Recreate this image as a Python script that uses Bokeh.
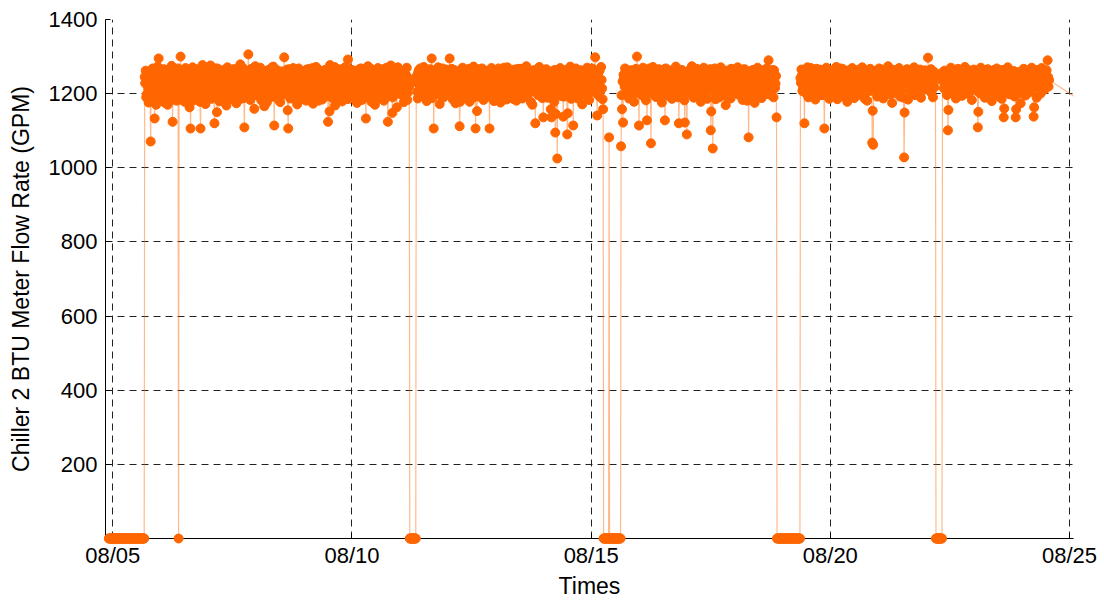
import pandas as pd
from bokeh.plotting import figure
from bokeh.models import FixedTicker, DatetimeTickFormatter, Range1d, ColumnDataSource
from bokeh.embed import file_html
from bokeh.resources import INLINE

# ---- data: Chiller 2 BTU meter flow rate (GPM) ----
# readings on the hour / half hour
series_start = "2020-08-04 22:00"
aug04 = [0, 0, 0, 0]
aug05 = [0] * 32 + [1245, 1262, 1198, 1231, 1176, 1254, 1071, 1219, 1268, 1187, 1133, 1240, 1206, 1273, 1295, 1228]
aug06 = [1214, 1251, 1183, 1266, 1232, 1197, 1243, 1170, 1259, 1221, 1189, 1275,
         1124, 1238, 1205, 1262, 1181, 1247, 0, 1226, 1300, 1193, 1257, 1213,
         1178, 1269, 1236, 1201, 1249, 1163, 1106, 1228, 1271, 1195, 1242, 1217,
         1256, 1184, 1231, 1264, 1106, 1209, 1277, 1191, 1246, 1172, 1238, 1260]
aug07 = [1203, 1248, 1276, 1186, 1229, 1255, 1120, 1241, 1197, 1268, 1215, 1179,
         1252, 1234, 1190, 1263, 1207, 1244, 1168, 1271, 1223, 1199, 1258, 1237,
         1185, 1266, 1212, 1249, 1174, 1230, 1261, 1196, 1279, 1220, 1242, 1188,
         1109, 1253, 1227, 1204, 1306, 1245, 1183, 1267, 1218, 1236, 1159, 1274]
aug08 = [1232, 1195, 1259, 1211, 1270, 1182, 1246, 1224, 1166, 1257, 1239, 1201,
         1264, 1188, 1229, 1251, 1207, 1273, 1114, 1235, 1192, 1260, 1218, 1243,
         1177, 1256, 1226, 1199, 1298, 1240, 1213, 1265, 1106, 1231, 1187, 1250,
         1222, 1269, 1194, 1238, 1255, 1171, 1244, 1209, 1262, 1228, 1185, 1247]
aug09 = [1258, 1216, 1181, 1249, 1233, 1267, 1198, 1225, 1254, 1173, 1241, 1210,
         1272, 1193, 1236, 1261, 1205, 1229, 1184, 1253, 1219, 1264, 1200, 1237,
         1124, 1246, 1277, 1213, 1189, 1258, 1230, 1168, 1243, 1222, 1266, 1196,
         1234, 1255, 1179, 1248, 1214, 1271, 1202, 1239, 1292, 1186, 1257, 1227]
aug10 = [1211, 1263, 1192, 1240, 1226, 1175, 1259, 1235, 1204, 1268, 1183, 1247,
         1220, 1256, 1133, 1231, 1274, 1199, 1243, 1215, 1188, 1262, 1237, 1170,
         1252, 1206, 1269, 1228, 1194, 1245, 1218, 1260, 1181, 1239, 1223, 1265,
         1124, 1250, 1208, 1276, 1232, 1190, 1257, 1219, 1244, 1163, 1271, 1236]
aug11 = [1229, 1198, 1261, 1242, 1177, 1254, 1216, 1270, 1203, 1238, 0, 0,
         0, 0, 0, 0, 0, 1248, 1187, 1263, 1221, 1196, 1257, 1234,
         1272, 1209, 1245, 1180, 1226, 1260, 1193, 1251, 1295, 1217, 1106, 1240,
         1264, 1199, 1233, 1256, 1172, 1245, 1212, 1268, 1190, 1237, 1259, 1224]
aug12 = [1246, 1205, 1295, 1231, 1267, 1185, 1252, 1219, 1174, 1261, 1240, 1197,
         1112, 1256, 1227, 1270, 1208, 1243, 1189, 1264, 1222, 1250, 1178, 1235,
         1259, 1201, 1273, 1216, 1106, 1248, 1230, 1192, 1266, 1211, 1244, 1257,
         1183, 1239, 1262, 1207, 1228, 1253, 1106, 1221, 1269, 1195, 1242, 1214]
aug13 = [1255, 1190, 1237, 1268, 1213, 1176, 1249, 1226, 1262, 1202, 1240, 1184,
         1271, 1218, 1233, 1258, 1195, 1247, 1209, 1265, 1223, 1181, 1254, 1236,
         1200, 1267, 1228, 1187, 1251, 1242, 1214, 1274, 1193, 1230, 1259, 1206,
         1245, 1170, 1263, 1222, 1120, 1238, 1256, 1197, 1272, 1215, 1249, 1188]
aug14 = [1136, 1243, 1207, 1266, 1225, 1189, 1252, 1231, 1136, 1260, 1214, 1178,
         1095, 1238, 1025, 1255, 1201, 1269, 1220, 1246, 1138, 1192, 1263, 1234,
         1090, 1248, 1211, 1273, 1186, 1229, 1114, 1257, 1240, 1203, 1265, 1222,
         1194, 1250, 1236, 1171, 1261, 1217, 1244, 1208, 1270, 1227, 1183, 1254]
aug15 = [1232, 1268, 1205, 1247, 1298, 1219, 1141, 1256, 1193, 1238, 1272, 1214,
         1158, 0, 0, 0, 0, 0, 1082, 0, 0, 0, 0, 0,
         0, 0, 0, 0, 0, 0, 1058, 1158, 1122, 1245, 1268, 1201,
         1236, 1259, 1187, 1227, 1263, 1210, 1250, 1178, 1241, 1267, 1300, 1222]
aug16 = [1114, 1257, 1233, 1196, 1270, 1218, 1244, 1182, 1128, 1261, 1229, 1205,
         1066, 1249, 1272, 1213, 1237, 1191, 1258, 1224, 1266, 1200, 1241, 1176,
         1253, 1219, 1128, 1268, 1234, 1195, 1247, 1212, 1262, 1186, 1239, 1255,
         1208, 1273, 1226, 1190, 1120, 1251, 1230, 1264, 1203, 1245, 1122, 1217]
aug17 = [1090, 1236, 1262, 1201, 1248, 1274, 1215, 1189, 1256, 1230, 1267, 1198,
         1243, 1221, 1178, 1259, 1207, 1270, 1235, 1192, 1252, 1226, 1263, 1211,
         1101, 1246, 1052, 1233, 1268, 1185, 1257, 1219, 1240, 1204, 1271, 1228,
         1196, 1254, 1238, 1169, 1262, 1214, 1249, 1225, 1187, 1266, 1232, 1205]
aug18 = [1258, 1213, 1245, 1271, 1197, 1234, 1260, 1222, 1183, 1249, 1266, 1208,
         1237, 1255, 1082, 1229, 1193, 1262, 1216, 1244, 1175, 1253, 1231, 1270,
         1204, 1240, 1263, 1188, 1226, 1257, 1212, 1247, 1268, 1199, 1290, 1235,
         1251, 1218, 1264, 1190, 1242, 1227, 1136, 0, 0, 0, 0, 0]
aug19 = [0, 0, 0, 0, 0, 0, 0, 0, 0, 0, 0, 0,
         0, 0, 0, 0, 0, 0, 1242, 1265, 1207, 1233, 1120, 1258,
         1219, 1271, 1190, 1246, 1228, 1261, 1201, 1239, 1255, 1184, 1267, 1224,
         1243, 1209, 1260, 1231, 1196, 1252, 1106, 1237, 1270, 1215, 1248, 1186]
aug20 = [1254, 1227, 1263, 1199, 1241, 1218, 1272, 1185, 1236, 1259, 1210, 1247,
         1223, 1266, 1193, 1250, 1231, 1178, 1262, 1214, 1244, 1205, 1269, 1229,
         1188, 1256, 1238, 1212, 1264, 1197, 1248, 1225, 1271, 1203, 1240, 1259,
         1216, 1181, 1253, 1234, 1267, 1208, 1068, 1062, 1245, 1226, 1261, 1192]
aug21 = [1239, 1268, 1206, 1251, 1223, 1187, 1262, 1230, 1245, 1198, 1274, 1216,
         1256, 1235, 1175, 1264, 1219, 1242, 1201, 1258, 1227, 1269, 1192, 1248,
         1213, 1237, 1028, 1255, 1220, 1266, 1184, 1241, 1229, 1260, 1203, 1250,
         1271, 1196, 1233, 1257, 1211, 1244, 1265, 1189, 1236, 1252, 1217, 1263]
aug22 = [1228, 1254, 1297, 1209, 1243, 1266, 1221, 1190, 1259, 1235, 0, 0,
         0, 0, 0, 0, 0, 1248, 1214, 1262, 1231, 1196, 1101, 1257,
         1238, 1270, 1205, 1246, 1223, 1261, 1187, 1240, 1267, 1212, 1253, 1229,
         1194, 1258, 1236, 1272, 1218, 1245, 1200, 1263, 1226, 1251, 1183, 1241]
aug23 = [1265, 1219, 1247, 1232, 1109, 1256, 1201, 1270, 1238, 1214, 1260, 1189,
         1244, 1227, 1266, 1205, 1253, 1235, 1180, 1262, 1221, 1249, 1196, 1268,
         1230, 1211, 1257, 1243, 1186, 1264, 1136, 1225, 1250, 1207, 1271, 1239,
         1198, 1255, 1216, 1247, 1261, 1192, 1136, 1233, 1258, 1220, 1244, 1174]
aug24 = [1252, 1213, 1267, 1236, 1195, 1248, 1226, 1261, 1204, 1242, 1270, 1218,
         1138, 1257, 1231, 1189, 1264, 1222, 1246, 1200, 1269, 1235, 1255, 1211,
         1240, 1263, 1290, 1219]

# readings at quarter past / quarter to
quarter_start = "2020-08-04 22:15"
q04 = [0, 0, 0, 0]
q05 = [0] * 32 + [1228, 1190, 1257, 1213, 1244, 1201, 1236, 1262, 1185, 1249, 1221, 1170, 1258, 1232, 1209, 1265]
q06 = [1197, 1240, 1226, 1258, 1175, 1219, 1264, 1203, 1237, 1251, 1182, 1229,
       1256, 1210, 1247, 1193, 1233, 1268, 1220, 1184, 1242, 1259, 1206, 1231,
       1253, 1189, 1224, 1262, 1214, 1238, 1199, 1257, 1181, 1245, 1225, 1266,
       1201, 1234, 1254, 1178, 1221, 1248, 1193, 1262, 1215, 1240, 1258, 1205]
q07 = [1237, 1221, 1191, 1256, 1244, 1208, 1268, 1226, 1150, 1233, 1252, 1198,
       1215, 1262, 1240, 1179, 1229, 1257, 1211, 1245, 1264, 1187, 1232, 1218,
       1254, 1203, 1238, 1266, 1194, 1247, 1223, 1258, 1186, 1235, 1269, 1210,
       1243, 1190, 1260, 1227, 1249, 1216, 1255, 1199, 1236, 1263, 1207, 1230]
q08 = [1245, 1267, 1213, 1230, 1189, 1255, 1239, 1201, 1261, 1222, 1176, 1248,
       1234, 1209, 1257, 1270, 1192, 1225, 1250, 1204, 1264, 1237, 1183, 1243,
       1218, 1260, 1197, 1233, 1252, 1210, 1241, 1155, 1228, 1266, 1206, 1239,
       1257, 1186, 1224, 1262, 1199, 1235, 1268, 1215, 1190, 1251, 1229, 1261]
q09 = [1202, 1240, 1265, 1227, 1188, 1253, 1216, 1244, 1269, 1195, 1230, 1258,
       1211, 1236, 1181, 1263, 1248, 1222, 1257, 1206, 1240, 1192, 1231, 1266,
       1217, 1152, 1237, 1259, 1200, 1245, 1272, 1213, 1189, 1254, 1234, 1208,
       1265, 1222, 1244, 1196, 1259, 1230, 1185, 1250, 1218, 1267, 1239, 1204]
q10 = [1248, 1229, 1205, 1261, 1186, 1242, 1220, 1266, 1197, 1233, 1255, 1214,
       1263, 1191, 1240, 1209, 1251, 1228, 1268, 1178, 1235, 1247, 1202, 1259,
       1224, 1238, 1187, 1256, 1213, 1266, 1199, 1232, 1249, 1208, 1270, 1226,
       1244, 1193, 1260, 1219, 1148, 1253, 1231, 1262, 1204, 1239, 1216, 1250]
q11 = [1262, 1214, 1238, 1196, 1256, 1225, 1249, 1183, 1242, 1219, 0, 0,
       0, 0, 0, 0, 1231, 1205, 1257, 1240, 1268, 1211, 1193, 1246,
       1227, 1259, 1199, 1237, 1252, 1214, 1266, 1230, 1188, 1247, 1220, 1261,
       1203, 1242, 1271, 1216, 1234, 1195, 1257, 1228, 1250, 1207, 1265, 1239]
q12 = [1219, 1258, 1236, 1201, 1249, 1227, 1264, 1190, 1243, 1213, 1256, 1232,
       1178, 1246, 1205, 1238, 1261, 1222, 1250, 1196, 1233, 1267, 1210, 1254,
       1228, 1189, 1244, 1262, 1217, 1153, 1255, 1240, 1202, 1236, 1268, 1221,
       1247, 1206, 1259, 1233, 1192, 1245, 1224, 1263, 1214, 1238, 1180, 1256]
q13 = [1226, 1263, 1210, 1244, 1196, 1257, 1231, 1205, 1270, 1239, 1218, 1252,
       1187, 1236, 1261, 1213, 1248, 1224, 1185, 1243, 1256, 1202, 1267, 1229,
       1241, 1216, 1253, 1199, 1264, 1233, 1247, 1208, 1238, 1260, 1221, 1177,
       1256, 1232, 1209, 1249, 1240, 1266, 1197, 1228, 1245, 1254, 1213, 1236]
q14 = [1221, 1262, 1190, 1238, 1254, 1209, 1233, 1158, 1247, 1225, 1199, 1264,
       1145, 1211, 1243, 1228, 1258, 1237, 1193, 1252, 1216, 1245, 1230, 1207,
       1147, 1236, 1260, 1219, 1244, 1255, 1203, 1231, 1268, 1214, 1187, 1249,
       1234, 1263, 1208, 1242, 1226, 1253, 1195, 1261, 1232, 1211, 1247, 1225]
q15 = [1255, 1218, 1240, 1263, 1226, 1201, 1248, 1230, 1262, 1209, 1237, 1185,
       0, 0, 0, 0, 0, 0, 0, 0, 0, 0, 0, 0,
       0, 0, 0, 0, 0, 0, 1196, 1233, 1251, 1219, 1240, 1265,
       1208, 1247, 1223, 1256, 1194, 1238, 1262, 1216, 1230, 1253, 1245, 1201]
q16 = [1248, 1212, 1239, 1263, 1224, 1191, 1256, 1235, 1207, 1244, 1268, 1219,
       1232, 1200, 1253, 1227, 1261, 1240, 1209, 1247, 1188, 1236, 1258, 1221,
       1243, 1266, 1196, 1230, 1252, 1214, 1262, 1228, 1241, 1203, 1257, 1234,
       1264, 1218, 1245, 1236, 1199, 1260, 1213, 1248, 1226, 1182, 1255, 1239]
q17 = [1222, 1249, 1210, 1240, 1226, 1257, 1233, 1268, 1203, 1245, 1219, 1254,
       1262, 1197, 1236, 1224, 1250, 1212, 1259, 1241, 1186, 1231, 1248, 1266,
       1152, 1228, 1214, 1255, 1201, 1242, 1237, 1263, 1190, 1230, 1246, 1217,
       1258, 1225, 1194, 1261, 1233, 1249, 1208, 1240, 1267, 1219, 1250, 1229]
q18 = [1236, 1262, 1228, 1207, 1254, 1219, 1243, 1193, 1265, 1230, 1214, 1249,
       1181, 1238, 1256, 1212, 1247, 1229, 1264, 1201, 1234, 1218, 1258, 1242,
       1226, 1253, 1190, 1237, 1261, 1214, 1245, 1232, 1208, 1259, 1221, 1250,
       1196, 1240, 1227, 1263, 1215, 1248, 0, 0, 0, 0, 0, 0]
q19 = [0, 0, 0, 0, 0, 0, 0, 0, 0, 0, 0, 0,
       0, 0, 0, 0, 0, 0, 1229, 1250, 1213, 1262, 1238, 1201,
       1255, 1232, 1244, 1216, 1269, 1223, 1251, 1207, 1236, 1260, 1192, 1247,
       1226, 1265, 1218, 1240, 1254, 1211, 1229, 1258, 1199, 1243, 1233, 1262]
q20 = [1238, 1210, 1246, 1229, 1260, 1217, 1241, 1253, 1202, 1232, 1268, 1224,
       1247, 1195, 1236, 1258, 1213, 1250, 1227, 1264, 1190, 1239, 1256, 1218,
       1233, 1245, 1200, 1261, 1222, 1249, 1211, 1237, 1255, 1228, 1186, 1252,
       1243, 1234, 1207, 1258, 1221, 1246, 1154, 1212, 1260, 1236, 1203, 1250]
q21 = [1254, 1223, 1237, 1265, 1208, 1246, 1231, 1212, 1258, 1220, 1242, 1233,
       1199, 1251, 1226, 1244, 1262, 1205, 1236, 1248, 1215, 1240, 1257, 1230,
       1245, 1189, 1149, 1221, 1240, 1235, 1253, 1208, 1262, 1217, 1238, 1226,
       1249, 1213, 1257, 1241, 1228, 1264, 1202, 1235, 1251, 1219, 1243, 1230]
q22 = [1243, 1212, 1238, 1259, 1226, 1202, 1249, 1233, 1217, 1255, 0, 0,
       0, 0, 0, 0, 1236, 1260, 1225, 1247, 1209, 1240, 1156, 1232,
       1254, 1218, 1241, 1264, 1230, 1195, 1252, 1226, 1243, 1210, 1238, 1262,
       1221, 1246, 1203, 1255, 1233, 1219, 1261, 1240, 1207, 1237, 1257, 1228]
q23 = [1235, 1252, 1208, 1247, 1151, 1228, 1262, 1219, 1245, 1233, 1199, 1256,
       1225, 1241, 1212, 1259, 1231, 1248, 1216, 1237, 1264, 1203, 1244, 1229,
       1252, 1238, 1190, 1257, 1226, 1243, 1160, 1240, 1212, 1261, 1229, 1250,
       1234, 1208, 1247, 1222, 1239, 1255, 1158, 1217, 1236, 1249, 1201, 1226]
q24 = [1238, 1247, 1221, 1254, 1230, 1209, 1243, 1236, 1258, 1224, 1215, 1251,
       1163, 1240, 1218, 1262, 1233, 1247, 1205, 1239, 1226, 1256, 1240, 1228,
       1259, 1232, 1245, 1237]

last_time = "2020-08-25 06:00"
last_value = 1180

x_tick_dates = ["2020-08-05", "2020-08-10", "2020-08-15", "2020-08-20", "2020-08-25"]
y_ticks = [200, 400, 600, 800, 1000, 1200, 1400]

flow = (aug04 + aug05 + aug06 + aug07 + aug08 + aug09 + aug10 + aug11 + aug12 + aug13
        + aug14 + aug15 + aug16 + aug17 + aug18 + aug19 + aug20 + aug21 + aug22 + aug23 + aug24)
flow_q = (q04 + q05 + q06 + q07 + q08 + q09 + q10 + q11 + q12 + q13
          + q14 + q15 + q16 + q17 + q18 + q19 + q20 + q21 + q22 + q23 + q24)

df = pd.DataFrame({
    "t": list(pd.date_range(series_start, periods=len(flow), freq="30min"))
         + list(pd.date_range(quarter_start, periods=len(flow_q), freq="30min")),
    "v": flow + flow_q,
}).sort_values("t")

pts = ColumnDataSource(dict(t=list(df["t"]), v=list(df["v"])))
line_src = ColumnDataSource(dict(t=list(df["t"]) + [pd.Timestamp(last_time)],
                                 v=list(df["v"]) + [last_value]))

ORANGE = "#FF6600"
FONT = "Liberation Sans"

p = figure(width=1100, height=603, x_axis_type="datetime",
           output_backend="svg", toolbar_location=None,
           x_range=Range1d(pd.Timestamp("2020-08-04 20:20"), pd.Timestamp("2020-08-25 02:00")),
           y_range=Range1d(0, 1400),
           min_border_left=105, min_border_right=27, min_border_top=19, min_border_bottom=65)
p.outline_line_color = None
p.background_fill_color = "white"

p.line("t", "v", source=line_src, color=ORANGE, line_alpha=0.45, line_width=1.2)
p.scatter("t", "v", source=pts, size=9, fill_color=ORANGE, line_color=ORANGE, level="overlay")

xt = FixedTicker(ticks=[pd.Timestamp(d).value / 1e6 for d in x_tick_dates])
yt = FixedTicker(ticks=y_ticks)
p.xaxis.ticker = xt
p.yaxis.ticker = yt
p.xgrid.ticker = xt
p.ygrid.ticker = yt
fmt = "%m/%d"
p.xaxis.formatter = DatetimeTickFormatter(days=fmt, months=fmt, hours=fmt, years=fmt)

for g in (p.xgrid, p.ygrid):
    g.grid_line_color = "#222222"
    g.grid_line_dash = "7 5"
    g.grid_line_width = 1
    g.grid_line_alpha = 1

p.xaxis.axis_label = "Times"
p.yaxis.axis_label = "Chiller 2 BTU Meter Flow Rate (GPM)"
for ax in (p.xaxis, p.yaxis):
    ax.axis_line_color = "black"
    ax.axis_line_width = 1
    ax.major_tick_in = 5
    ax.major_tick_out = 0
    ax.minor_tick_in = 0
    ax.minor_tick_out = 0
    ax.major_tick_line_color = "black"
    ax.major_label_text_font = FONT
    ax.major_label_text_font_size = "22px"
    ax.major_label_text_color = "black"
    ax.axis_label_text_font = FONT
    ax.axis_label_text_font_size = "23px"
    ax.axis_label_text_font_style = "normal"
    ax.axis_label_text_color = "black"
p.xaxis.major_label_standoff = 4
p.xaxis.axis_label_standoff = 2
p.yaxis.major_label_standoff = 8
p.yaxis.axis_label_standoff = 12

open("out.html", "w").write(file_html(p, INLINE))
